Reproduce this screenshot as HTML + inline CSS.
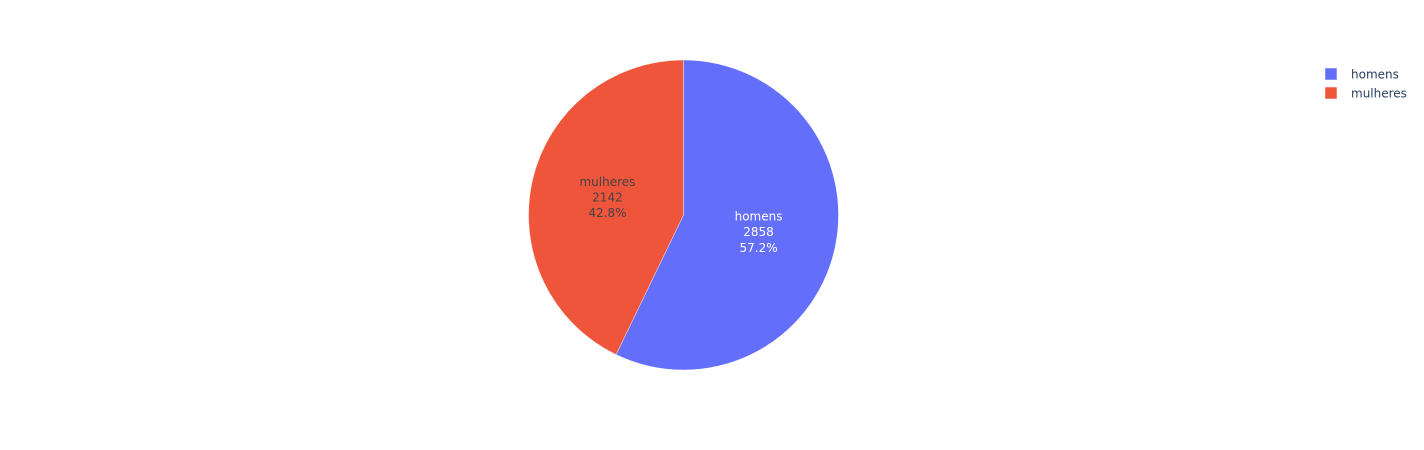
<!DOCTYPE html>
<html>
<head>
<meta charset="utf-8">
<title>Pie chart</title>
<style>
html,body{margin:0;padding:0;background:#fff;width:1424px;height:450px;overflow:hidden}
svg{display:block}
text{font-family:"DejaVu Sans","Liberation Sans",sans-serif;font-size:12px}
</style>
</head>
<body>
<svg id="chart" width="1424" height="450" viewBox="0 0 1424 450" xmlns="http://www.w3.org/2000/svg">
  <rect x="0" y="0" width="1424" height="450" fill="#ffffff"></rect>
  <g id="slices"></g>
  <g id="legend"></g>
</svg>
<script>
const categories = ['homens', 'mulheres'];
const seriesValues = [2858, 2142];
const sliceColors = ['#636efa', '#ef553b'];
const labelColors = ['#ffffff', '#444444'];

const NS = 'http://www.w3.org/2000/svg';
const cx = 683.5, cy = 215, radius = 155;
const lineGap = 15.6;
const slicesGroup = document.getElementById('slices');
const legendGroup = document.getElementById('legend');
const total = seriesValues.reduce(function (a, b) { return a + b; }, 0);

function angleOf(value) { return value / total * Math.PI * 2; }
function pointAt(angle, r) {
  return [cx + r * Math.sin(angle), cy - r * Math.cos(angle)];
}
function addLine(parent, x, y, str, color, anchor) {
  const t = document.createElementNS(NS, 'text');
  t.setAttribute('x', x);
  t.setAttribute('y', y);
  t.setAttribute('fill', color);
  t.setAttribute('text-anchor', anchor);
  t.textContent = str;
  parent.appendChild(t);
  return t;
}

let cumulative = 0;
const labelLayer = [];
categories.forEach(function (name, i) {
  const value = seriesValues[i];
  const start = angleOf(cumulative);
  const sweep = angleOf(value);
  const end = start + sweep;
  const p0 = pointAt(start, radius);
  const p1 = pointAt(end, radius);
  const large = sweep > Math.PI ? 1 : 0;

  const path = document.createElementNS(NS, 'path');
  
  
  path.setAttribute('d', 'M' + cx + ',' + cy + ' L' + p0[0] + ',' + p0[1] +
    ' A' + radius + ',' + radius + ' 0 ' + large + ' 1 ' + p1[0] + ',' + p1[1] + ' Z');
  path.setAttribute('fill', sliceColors[i]);
  path.setAttribute('stroke', '#ffffff');
  path.setAttribute('stroke-width', '0.4');
  slicesGroup.appendChild(path);

  labelLayer.push({ name: name, value: value, mid: start + sweep / 2, color: labelColors[i] });
  cumulative += value;
});

labelLayer.forEach(function (item) {
  const c = pointAt(item.mid, radius / 2);
  const g = document.createElementNS(NS, 'g');
  
  
  const pct = (item.value / total * 100).toFixed(1) + '%';
  const lines = [item.name, String(item.value), pct];
  lines.forEach(function (str, k) {
    addLine(g, c[0] - 0.5, c[1] - 11.7 + k * lineGap, str, item.color, 'middle');
  });
  slicesGroup.appendChild(g);
});

categories.forEach(function (name, i) {
  const g = document.createElementNS(NS, 'g');
  
  
  const y = 74 + i * 19;
  const swatch = document.createElementNS(NS, 'rect');
  
  
  swatch.setAttribute('x', 1325);
  swatch.setAttribute('y', y - 6);
  swatch.setAttribute('width', 12);
  swatch.setAttribute('height', 12);
  swatch.setAttribute('fill', sliceColors[i]);
  swatch.setAttribute('stroke', '#ffffff');
  swatch.setAttribute('stroke-width', '0.5');
  g.appendChild(swatch);
  addLine(g, 1351, y + 4.5, name, '#2a3f5f', 'start');
  legendGroup.appendChild(g);
});
</script>
</body>
</html>
